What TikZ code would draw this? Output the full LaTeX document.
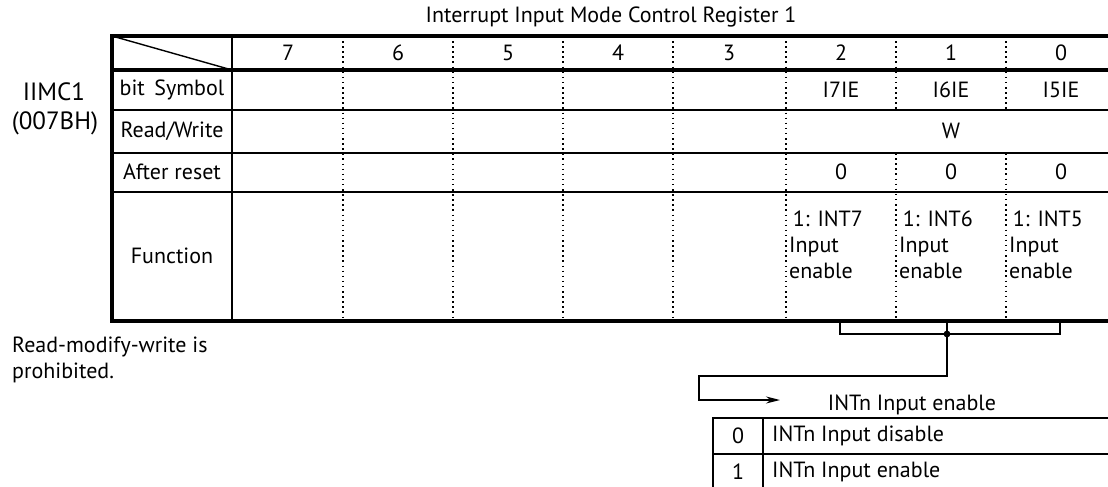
\documentclass[tikz,border=0pt]{standalone}
\usepackage{fontspec}
\setmainfont{PT Sans}
\usetikzlibrary{arrows.meta}

\begin{document}
\begin{tikzpicture}[x=1pt, y=-1pt, font=\fontsize{22}{26}\selectfont]
%% coordinates are given in pixels of the original drawing (y grows downwards)
%% the frame of the register table and of the legend run past the right edge,
%% so everything is clipped to the picture area
\tikzstyle{frame}=[line width=3.6pt]
\tikzstyle{rule}=[line width=1.4pt]
\tikzstyle{bitsep}=[line width=1.5pt, dash pattern=on 1.5pt off 3.6pt]
\tikzstyle{link}=[line width=1.6pt]
\tikzstyle{arc}=[-{Stealth[length=14pt,width=7pt]}, line width=1.6pt]
\tikzstyle{cell}=[inner sep=0pt]
\useasboundingbox (0,0) rectangle (1108,487);
\clip (0,0) rectangle (1108,487);
%% register table %%
\draw[frame] (1116,36) -- (112,36) -- (112,321) -- (1116,321) -- cycle;
\draw[frame] (112,70) -- (1116,70);
\draw[rule] (112,110) -- (1116,110);
\draw[rule, line width=2pt] (112,153) -- (1116,153);
\draw[rule] (112,192) -- (1116,192);
\draw[rule] (232,36) -- (232,321);
\draw[rule] (112,36) -- (232,70);
%% dotted separators between bits
\draw[bitsep] (343,36) -- (343,321);
\draw[bitsep] (453,36) -- (453,321);
\draw[bitsep] (563,36) -- (563,321);
\draw[bitsep] (673,36) -- (673,321);
\draw[bitsep] (786,36) -- (786,321);
%% bits 2..0 share one Read/Write cell
\draw[bitsep] (896,36) -- (896,110);
\draw[bitsep] (896,153) -- (896,321);
\draw[bitsep] (1006,36) -- (1006,110);
\draw[bitsep] (1006,153) -- (1006,321);
%% title and register name
\node[cell] at (611,17) (Title) {Interrupt Input Mode Control Register 1};
\node[cell, font=\fontsize{25}{26}\selectfont] at (54,92) (RegName) {IIMC1};
\node[cell, font=\fontsize{25}{26}\selectfont] at (55,123) (RegAddr) {(007BH)};
%% row labels
\node[cell] at (172,90) (RowSymbol) {bit\, Symbol};
\node[cell] at (172,131) (RowRW) {Read/Write};
\node[cell] at (172,172) (RowReset) {After reset};
\node[cell] at (172,256) (RowFunc) {Function};
%% bit numbers
\node[cell] at (288,53) (Bit7) {7};
\node[cell] at (398,53) (Bit6) {6};
\node[cell] at (508,53) (Bit5) {5};
\node[cell] at (618,53) (Bit4) {4};
\node[cell] at (729,53) (Bit3) {3};
\node[cell] at (841,53) (Bit2) {2};
\node[cell] at (951,53) (Bit1) {1};
\node[cell] at (1061,53) (Bit0) {0};
%% bit symbols
\node[cell] at (841,90) (I7IE) {I7IE};
\node[cell] at (951,90) (I6IE) {I6IE};
\node[cell] at (1061,90) (I5IE) {I5IE};
%% read/write and reset values
\node[cell] at (951,131) (RW) {W};
\node[cell] at (841,172) (Reset2) {0};
\node[cell] at (951,172) (Reset1) {0};
\node[cell] at (1061,172) (Reset0) {0};
%% functions
\node[cell, anchor=west, align=left] at (789,245) (Func2) {\,1: INT7\\Input\\enable};
\node[cell, anchor=west, align=left] at (899,245) (Func1) {\,1: INT6\\Input\\enable};
\node[cell, anchor=west, align=left] at (1009,245) (Func0) {\,1: INT5\\Input\\enable};
%% note
\node[cell, anchor=west, align=left] at (12,360) (Note) {Read-modify-write is\\prohibited.};
%% bracket from bits 2..0 to the legend
\coordinate (Tick2) at (840,321);
\coordinate (Tick1) at (947,321);
\coordinate (Tick0) at (1060,321);
\coordinate (Join2) at (840,334);
\coordinate (Join1) at (947,334);
\coordinate (Join0) at (1060,334);
\coordinate (Turn) at (699,376);
\coordinate (LegendIn) at (780,400);
\draw[link] (Tick2) -- (Join2) -- (Join0) -- (Tick0);
\draw[link] (Tick1) -- (Join1);
\fill (Join1) circle (3.4);
\draw[arc] (Join1) |- (Turn) |- (LegendIn);
%% legend
\node[cell] at (912,405) (Legend) {INTn Input enable};
\draw[rule] (1116,418) -- (713,418) -- (713,495);
\draw[rule] (713,454) -- (1116,454);
\draw[rule] (763,418) -- (763,495);
\node[cell] at (738,436) (Val0) {0};
\node[cell, anchor=west] at (772,436) (Text0) {INTn Input disable};
\node[cell] at (738,472) (Val1) {1};
\node[cell, anchor=west] at (772,472) (Text1) {INTn Input enable};
\end{tikzpicture}
\end{document}
